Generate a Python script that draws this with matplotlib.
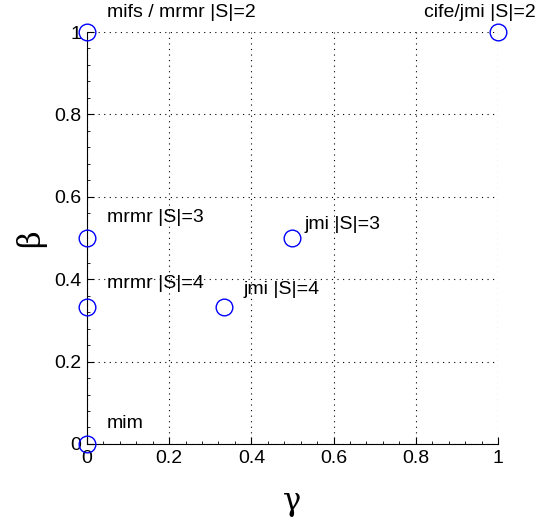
import matplotlib.pyplot as plt
from matplotlib.ticker import AutoMinorLocator

plt.rcParams['font.family'] = ['Liberation Sans', 'DejaVu Sans']

# criteria positions in (gamma, beta) space
gamma = [0, 1, 0, 0.5, 0, 1/3, 0]
beta = [1, 1, 0.5, 0.5, 1/3, 1/3, 0]
names = ['mifs / mrmr |S|=2', 'cife/jmi |S|=2', 'mrmr |S|=3', 'jmi |S|=3',
         'mrmr |S|=4', 'jmi |S|=4', 'mim']
# label offsets (data units) from each point
dx = [0.049, -0.18, 0.049, 0.03, 0.049, 0.047, 0.049]
dy = [0.048, 0.048, 0.049, 0.032, 0.055, 0.041, 0.049]

fig = plt.figure(figsize=(5.45, 5.23), dpi=100)
ax = fig.add_axes([0.1596, 0.1511, 0.7541, 0.7877])

ax.plot(gamma, beta, 'o', markersize=12, markerfacecolor='none',
        markeredgecolor='#0000ff', markeredgewidth=1.0, clip_on=False, zorder=5)
for g, b, n, ox, oy in zip(gamma, beta, names, dx, dy):
    ax.text(g + ox, b + oy, n, fontsize=14, va='center', ha='left', clip_on=False)

ax.set_xlim(0, 1)
ax.set_ylim(0, 1)
ax.set_xticks([0, 0.2, 0.4, 0.6, 0.8, 1])
ax.set_yticks([0, 0.2, 0.4, 0.6, 0.8, 1])
ax.set_xticklabels(['0', '0.2', '0.4', '0.6', '0.8', '1'])
ax.set_yticklabels(['0', '0.2', '0.4', '0.6', '0.8', '1'])
ax.xaxis.set_minor_locator(AutoMinorLocator(5))
ax.yaxis.set_minor_locator(AutoMinorLocator(5))
ax.tick_params(which='both', direction='in', labelsize=14, pad=4)
ax.tick_params(which='major', length=5, width=0.8)
ax.tick_params(which='minor', length=2.5, width=0.6)
ax.grid(True, which='major', linestyle=(0, (1, 4)), color='black', linewidth=0.8)

ax.spines['top'].set_visible(False)
ax.spines['right'].set_visible(False)

ax.set_xlabel('γ', fontsize=22, family='DejaVu Serif', labelpad=14)
ax.set_ylabel('β', fontsize=22, family='DejaVu Serif', labelpad=6, rotation=90)

fig.savefig('out.png', dpi=100)
